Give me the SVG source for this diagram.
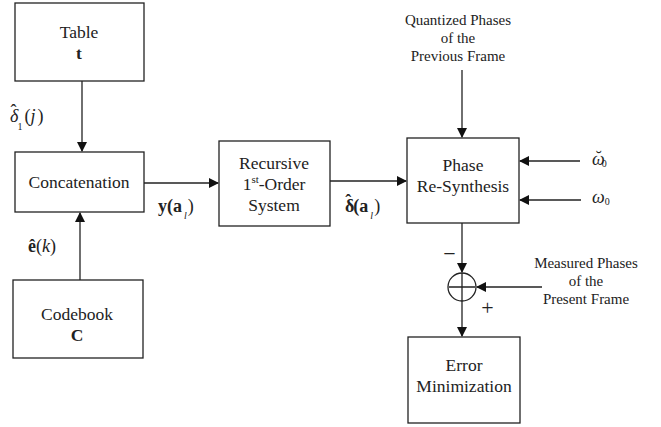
<svg xmlns="http://www.w3.org/2000/svg" width="661" height="427" viewBox="0 0 661 427">
<defs>
<marker id="ah" markerWidth="10" markerHeight="10" refX="9" refY="5" orient="auto" markerUnits="userSpaceOnUse">
<path d="M0,0 L10,5 L0,10 Z" fill="#111"/>
</marker>
<style>
.box{fill:#fff;stroke:#222;stroke-width:1.3}
.c{fill:none;stroke:#222;stroke-width:1.3}
text{font-family:"Liberation Serif","Times New Roman",serif;fill:#222}
.t{font-size:17.5px;text-anchor:middle}
.s{font-size:15px;text-anchor:middle}
.b{font-weight:bold}
.i{font-style:italic}
</style>
</defs>
<rect width="661" height="427" fill="#fff"/>
<g id="table">
<rect class="box" x="15" y="3" width="129" height="78"/>
<text class="t" x="79" y="38">Table</text>
<text class="t b" x="79" y="59">t</text>
</g>
<g id="concat">
<rect class="box" x="15" y="152" width="129" height="60"/>
<text class="t" x="79" y="188">Concatenation</text>
</g>
<g id="codebook">
<rect class="box" x="13" y="280" width="130" height="78"/>
<text class="t" x="77" y="320">Codebook</text>
<text class="t b" x="77" y="341">C</text>
</g>
<g id="recursive">
<rect class="box" x="219" y="141" width="111" height="85"/>
<text class="t" x="274" y="169">Recursive</text>
<text class="t" x="274" y="190">1<tspan style="font-size:11px" dy="-7">st</tspan><tspan dy="7">-Order</tspan></text>
<text class="t" x="274" y="211">System</text>
</g>
<g id="phase">
<rect class="box" x="407" y="138" width="112" height="85"/>
<text class="t" x="463" y="171">Phase</text>
<text class="t" x="463" y="192">Re-Synthesis</text>
</g>
<g id="error">
<rect class="box" x="408" y="337" width="112" height="86"/>
<text class="t" x="464" y="371">Error</text>
<text class="t" x="464" y="392">Minimization</text>
</g>
<g id="sum">
<circle class="c" cx="462" cy="287" r="14"/>
<path class="c" d="M449,287 H475 M462,273 V301"/>
</g>
<g id="connectors">
<path class="c" d="M82,81 V151" marker-end="url(#ah)"/>
<path class="c" d="M80,280 V213" marker-end="url(#ah)"/>
<path class="c" d="M144,183 H218" marker-end="url(#ah)"/>
<path class="c" d="M330,181 H406" marker-end="url(#ah)"/>
<path class="c" d="M462,70 V137" marker-end="url(#ah)"/>
<path class="c" d="M580,161 H520" marker-end="url(#ah)"/>
<path class="c" d="M581,200 H520" marker-end="url(#ah)"/>
<path class="c" d="M462,223 V272" marker-end="url(#ah)"/>
<path class="c" d="M542,287 H477" marker-end="url(#ah)"/>
<path class="c" d="M462,301 V336" marker-end="url(#ah)"/>
</g>
<g id="labels">
<text class="s" x="458" y="25">Quantized Phases</text>
<text class="s" x="458" y="43">of the</text>
<text class="s" x="458" y="61">Previous Frame</text>
<text class="s" x="586" y="268">Measured Phases</text>
<text class="s" x="586" y="286">of the</text>
<text class="s" x="586" y="304">Present Frame</text>
<text x="449.5" y="261" style="font-size:22px;text-anchor:middle">−</text>
<text x="487.5" y="315" style="font-size:22px;text-anchor:middle">+</text>
<text x="10" y="122" style="font-size:18px"><tspan class="i">δ</tspan><tspan dx="-8" dy="-5">ˆ</tspan><tspan style="font-size:10px" dx="1" dy="13">1</tspan><tspan dy="-8" dx="2">(</tspan><tspan class="i">j</tspan><tspan dx="2">)</tspan></text>
<text x="28" y="252" style="font-size:18px" class="b">ê<tspan style="font-weight:normal">(<tspan class="i">k</tspan>)</tspan></text>
<text x="158" y="212" style="font-size:18px" class="b">y(a<tspan style="font-size:10px;font-weight:normal;font-style:italic" dy="7" dx="2">l</tspan><tspan style="font-weight:normal" dy="-7" dx="1">)</tspan></text>
<text x="345" y="212" style="font-size:18px" class="b">δ<tspan dx="-9" dy="-5">ˆ</tspan><tspan dx="2" dy="5">(a</tspan><tspan style="font-size:10px;font-weight:normal;font-style:italic" dy="7" dx="2">l</tspan><tspan style="font-weight:normal" dy="-7" dx="1">)</tspan></text>
<text x="592" y="165" class="i" style="font-size:18px">ω<tspan style="font-style:normal" dx="-9" dy="-1">˘</tspan><tspan style="font-size:10px;font-style:normal" dx="0" dy="3">0</tspan></text>
<text x="592" y="203" class="i" style="font-size:18px">ω<tspan style="font-size:10px;font-style:normal" dy="2">0</tspan></text>
</g>
</svg>
